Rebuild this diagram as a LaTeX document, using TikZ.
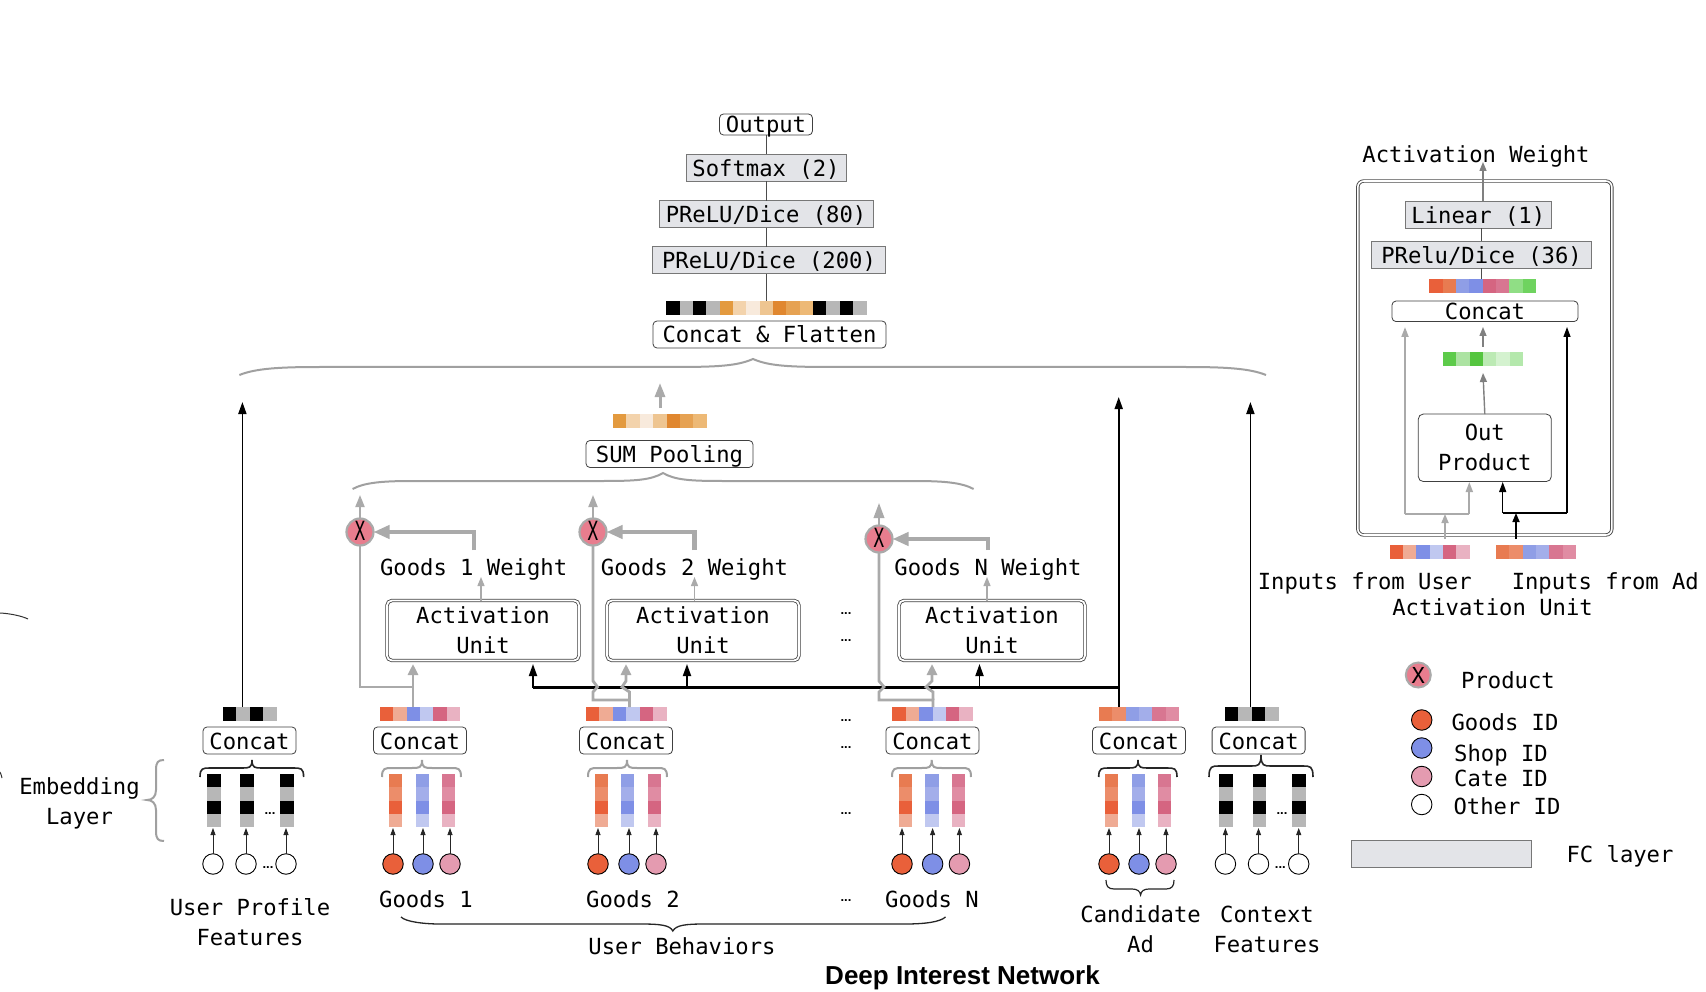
\documentclass[tikz,border=0pt]{standalone}
\usepackage{fontspec}
\setmainfont{DejaVu Sans Mono}
\newfontfamily\titlefont{Liberation Sans}
\usetikzlibrary{arrows.meta}
\definecolor{cO}{HTML}{E9603A}\definecolor{cOa}{HTML}{E87B51}\definecolor{cOb}{HTML}{EC8D6A}\definecolor{cOl}{HTML}{EFAB94}
\definecolor{cB}{HTML}{7E8FE6}\definecolor{cBa}{HTML}{8F9EE6}\definecolor{cBb}{HTML}{A3AEEA}\definecolor{cBl}{HTML}{C0C8F0}
\definecolor{cP}{HTML}{D56581}\definecolor{cPa}{HTML}{D87691}\definecolor{cPb}{HTML}{E08CA3}\definecolor{cPl}{HTML}{E9B2C2}
\definecolor{cPc}{HTML}{E49BB0}
\definecolor{cK}{HTML}{000000}\definecolor{cG}{HTML}{B7B7B7}
\definecolor{mA}{HTML}{E39A3F}\definecolor{mB}{HTML}{F3D3AC}\definecolor{mC}{HTML}{F8EADC}\definecolor{mD}{HTML}{EEC591}\definecolor{mE}{HTML}{E0872F}\definecolor{mF}{HTML}{E6A253}\definecolor{mG}{HTML}{EDB976}
\definecolor{gA}{HTML}{5DCB4A}\definecolor{gB}{HTML}{ACE3A2}\definecolor{gC}{HTML}{55C53F}\definecolor{gD}{HTML}{BCEAB4}\definecolor{gE}{HTML}{D4F2CF}\definecolor{gF}{HTML}{B4E8AC}\definecolor{gG}{HTML}{90DE85}\definecolor{gH}{HTML}{6FD35F}
\definecolor{fcfill}{HTML}{E3E4E8}\definecolor{fcline}{HTML}{777777}
\definecolor{xpink}{HTML}{E87D8E}\definecolor{lgray}{HTML}{AAAAAA}\definecolor{bgray}{HTML}{A0A0A0}
\def\rowGoods{cO,cOl,cB,cBl,cP,cPl}
\def\rowCand{cOa,cOb,cBa,cBb,cPa,cPb}
\def\rowProf{cK,cG,cK,cG}
\def\rowMid{mA,mB,mC,mD,mE,mF,mG}
\def\colO{cOa,cOb,cO,cOl}\def\colB{cBa,cBb,cB,cBl}\def\colP{cPa,cPb,cP,cPl}
% horizontal strip: name, left x, top y, cell width, height, colours
\newcommand{\hstrip}[6]{%
  \foreach \cc [count=\ii from 0] in #6 {\fill[\cc] ({#2+\ii*#4},#3) rectangle ++(#4+.15,#5);}
  \coordinate (#1) at (#2,#3);}
% vertical strip: left x, top y, width, cell height, colours
\newcommand{\vstrip}[5]{%
  \foreach \cc [count=\ii from 0] in #5 {\fill[\cc] (#1,{#2+\ii*#4}) rectangle ++(#3,#4+.15);}}
% brace opening downward: style, x1, x2, tip x, tip y, line y, end y, radius
\newcommand{\topbrace}[8]{%
  \draw[#1] (#2,#7) .. controls (#2,#6) and ({#2+.3*#8},#6) .. ({#2+#8},#6) -- ({#4-#8},#6)
    .. controls ({#4-.3*#8},#6) and (#4,#6) .. (#4,#5)
    .. controls (#4,#6) and ({#4+.3*#8},#6) .. ({#4+#8},#6) -- ({#3-#8},#6)
    .. controls ({#3-.3*#8},#6) and (#3,#6) .. (#3,#7);}
% wide shallow brace
\newcommand{\widebrace}[8]{%
  \draw[#1] (#2,#7) .. controls ({#2+.2*#8},{#6+1.5}) and ({#2+.5*#8},#6) .. ({#2+#8},#6) -- ({#4-#8},#6)
    .. controls ({#4-.45*#8},#6) and ({#4-.2*#8},{#6-1}) .. (#4,#5)
    .. controls ({#4+.2*#8},{#6-1}) and ({#4+.45*#8},#6) .. ({#4+#8},#6) -- ({#3-#8},#6)
    .. controls ({#3-.5*#8},#6) and ({#3-.2*#8},{#6+1.5}) .. (#3,#7);}
\tikzset{
  x=1pt,y=-1pt,
  txt/.style={inner sep=0,outer sep=0,text height=17pt,text depth=0pt,font=\fontsize{22.2}{30}\selectfont,text=black},
  mtxt/.style={inner sep=0,outer sep=0,align=center,font=\fontsize{22.2}{30}\selectfont,text=black},
  concatbox/.style={txt,draw=black!75,line width=.8pt,fill=white,rounded corners=4pt,minimum height=27pt},
  fcbox/.style={txt,draw=fcline,line width=1pt,fill=fcfill,minimum height=27pt},
  actbox/.style={mtxt,draw=black!75,line width=.8pt,double=white,double distance=1.8pt,rounded corners=5pt,minimum width=192pt,minimum height=60pt},
  idc/.style={circle,draw=black,line width=.9pt,minimum size=20.5pt,inner sep=0,outer sep=0},
  xnode/.style={txt,circle,draw=lgray,line width=2.2pt,fill=xpink,minimum size=27pt,font=\fontsize{22}{22}\selectfont,text=black},
  thinarr/.style={-{Triangle[length=7pt,width=5pt]},line width=.8pt,draw=black!85},
  grayarr/.style={-{Triangle[length=11pt,width=10pt]},line width=2.8pt,draw=lgray},
  wtarr/.style={-{Triangle[length=16pt,width=13pt]},line width=4.2pt,draw=lgray},
  topgray/.style={-{Triangle[length=14pt,width=10pt]},line width=3pt,draw=lgray},
  graysm/.style={-{Triangle[length=9pt,width=7pt]},line width=1.3pt,draw=lgray},
  blkarr/.style={-{Triangle[length=12pt,width=8pt]},line width=1.8pt,draw=black},
  grayln/.style={line width=2.8pt,draw=lgray,line join=miter},
  blkln/.style={line width=2.2pt,draw=black},
  stem/.style={line width=.8pt,draw=black!70},
  gbrace/.style={line width=2pt,draw=bgray},
  kbrace/.style={line width=1.6pt,draw=black!85},
  dots/.style={inner sep=0,outer sep=0,text height=2pt,text depth=0pt,font=\titlefont\bfseries\fontsize{13}{13}\selectfont,text=black},
}
\begin{document}
\begin{tikzpicture}
\useasboundingbox (0,0) rectangle (1706,992);
\fill[white] (0,0) rectangle (1706,992);

% ---- top stack
\node[concatbox,minimum width=93pt,minimum height=21pt] (output) at (766,124.5) {Output};
\node[fcbox,minimum width=160pt] (softmax) at (766,168) {Softmax (2)};
\node[fcbox,minimum width=214pt] (pr80) at (766,214.5) {PReLU/Dice (80)};
\node[fcbox,minimum width=233pt] (pr200) at (769,260.5) {PReLU/Dice (200)};
\coordinate (topline) at (766.4,301);
\draw[stem] (output.south -| topline) -- (softmax.north -| topline);
\draw[stem] (softmax.south -| topline) -- (pr80.north -| topline);
\draw[stem] (pr80.south -| topline) -- (pr200.north -| topline);
\draw[stem] (pr200.south -| topline) -- (topline);
\hstrip{flat}{666.4}{301}{13.33}{13.7}{{cK,cG,cK,cG,mA,mB,mC,mD,mE,mF,mG,cK,cG,cK,cG}}
\node[concatbox,minimum width=233pt] (flatten) at (769.5,334.5) {Concat \& Flatten};
\widebrace{gbrace}{239.4}{1266}{753}{359}{367}{375}{80}

% ---- sum pooling
\hstrip{midstrip}{613}{414}{13.4}{14}{\rowMid}
\coordinate (midtip) at (660,383);
\coordinate (midbase) at (660,408);
\draw[topgray] (midbase) -- (midtip);
\node[concatbox,minimum width=167pt] (sum) at (669.5,454) {SUM Pooling};
\widebrace{gbrace}{352.6}{973.6}{663}{473}{481}{489}{60}

% ---- product nodes and weights
\coordinate (xt1) at (360,495);\coordinate (xt2) at (593,495);\coordinate (xtn) at (879,503);
\coordinate (w1) at (473.6,550);\coordinate (w2) at (694.5,550);\coordinate (wn) at (988,550);
\node[xnode] (x1) at (360,532) {\scalebox{.8}[1.2]{X}};
\node[xnode] (x2) at (593,532) {\scalebox{.8}[1.2]{X}};
\node[xnode] (xn) at (879,539) {\scalebox{.8}[1.2]{X}};
\draw[graysm,line width=1.8pt,-{Triangle[length=12pt,width=9pt]}] (x1.north) -- (xt1);
\draw[graysm,line width=1.8pt,-{Triangle[length=12pt,width=9pt]}] (x2.north) -- (xt2);
\draw[graysm,line width=2pt,-{Triangle[length=15pt,width=10.5pt]}] (xn.north) -- (xtn);
\draw[wtarr] (w1) |- (x1.east);
\draw[wtarr] (w2) |- (x2.east);
\draw[wtarr] (wn) |- (xn.east);
\node[txt] (gw1) at (473.6,567) {Goods 1 Weight};
\node[txt] (gw2) at (694.5,567) {Goods 2 Weight};
\node[txt] (gwn) at (988,567) {Goods N Weight};

% ---- activation units
\node[actbox] (a1) at (483,630.5) {Activation\\Unit};
\node[actbox] (a2) at (703,630.5) {Activation\\Unit};
\node[actbox,minimum width=186pt] (an) at (992,630.5) {Activation\\Unit};
\coordinate (ua1) at (481,577);\coordinate (ua2) at (694.5,577);\coordinate (uan) at (987,577);
\draw[graysm] (a1.north -| ua1) -- (ua1);
\draw[graysm] (a2.north -| ua2) -- (ua2);
\draw[graysm] (an.north -| uan) -- (uan);

% ---- black bus from candidate ad
\coordinate (busE) at (1118.7,687.5);
\coordinate (adtip) at (1118.7,397);
\coordinate (b1) at (533,664);\coordinate (b2) at (687,664);\coordinate (bn) at (979.5,664);
\draw[blkln] (b1 |- busE) -- (busE);
\draw[blkarr] (b1 |- busE) -- (b1);
\draw[blkarr] (b2 |- busE) -- (b2);
\draw[blkarr] (bn |- busE) -- (bn);
\draw[blkarr] (adtip |- 0,707) -- (adtip);

% ---- group strips
\hstrip{s0}{223}{707}{13.4}{14}{\rowProf}
\hstrip{s1}{380}{707}{13.33}{14}{\rowGoods}
\hstrip{s2}{586}{707}{13.4}{14}{\rowGoods}
\hstrip{sn}{892.4}{707}{13.4}{14}{\rowGoods}
\hstrip{sc}{1098.7}{707}{13.4}{14}{\rowCand}
\hstrip{sx}{1225}{707}{13.4}{14}{\rowProf}
\coordinate (p0) at (242.4,402);\coordinate (px) at (1250.4,402);
\draw[blkarr] (p0 |- s0) -- (p0);
\draw[blkarr] (px |- sx) -- (px);

% gray feedback paths
\coordinate (g1) at (413,707);\coordinate (g1t) at (413,664);
\draw[grayln] (x1.south) -- (360,687) -- (g1 |- 0,687);
\draw[grayarr] (g1) -- (g1t);
\coordinate (g2s) at (629.5,707);\coordinate (g2t) at (626,664);
\draw[grayln] (x2.south) -- (593,681) -- (597.5,687) -- (593,692) -- (593,700) -- (629.5,700) -- (g2s);
\draw[grayarr] (629.5,700) -- (629.5,692) -- (622,687) -- (626,681) -- (g2t);
\coordinate (gns) at (933,707);\coordinate (gnt) at (932,664);
\draw[grayln] (xn.south) -- (879,681) -- (884,687) -- (879,692) -- (879,700) -- (933,700) -- (gns);
\draw[grayarr] (933,700) -- (933,692) -- (926,687) -- (932,681) -- (gnt);

% ---- concat boxes
\node[concatbox,minimum width=93pt] (c0) at (249.5,740.5) {Concat};
\node[concatbox,minimum width=93pt] (c1) at (420,740.5) {Concat};
\node[concatbox,minimum width=93pt] (c2) at (626,740.5) {Concat};
\node[concatbox,minimum width=93pt] (cn) at (932.4,740.5) {Concat};
\node[concatbox,minimum width=93pt] (cc) at (1139,740.5) {Concat};
\node[concatbox,minimum width=93pt] (cx) at (1258.6,740.5) {Concat};

\topbrace{kbrace}{200}{303.6}{252}{760}{768}{777}{10}
\topbrace{gbrace}{382}{461}{422}{760}{768}{777}{10}
\topbrace{gbrace}{588}{667}{627}{760}{768}{777}{10}
\topbrace{gbrace}{892}{971}{931.7}{760}{768}{777}{10}
\topbrace{kbrace}{1098.7}{1177}{1138}{760}{768}{777}{10}
\topbrace{kbrace}{1209}{1313}{1261}{755}{766}{777}{10}

% ---- embedding columns
\foreach \xx in {207,240,280,1219,1252.7,1292.4} {\vstrip{\xx}{774}{13.6}{13.3}{\rowProf}}
\vstrip{389}{774}{13.4}{13.3}{\colO}\vstrip{416}{774}{13.4}{13.3}{\colB}\vstrip{442}{774}{13.4}{13.3}{\colP}
\vstrip{595}{774}{13.4}{13.3}{\colO}\vstrip{621}{774}{13.4}{13.3}{\colB}\vstrip{648}{774}{13.4}{13.3}{\colP}
\vstrip{898.7}{774}{13.4}{13.3}{\colO}\vstrip{925.4}{774}{13.4}{13.3}{\colB}\vstrip{951.8}{774}{13.4}{13.3}{\colP}
\vstrip{1105}{774}{13.4}{13.3}{\colO}\vstrip{1131.7}{774}{13.4}{13.3}{\colB}\vstrip{1158}{774}{13.4}{13.3}{\colP}

% ---- ID circles + arrows
\foreach \nm/\xx/\cc in {a0/213/white,a1c/246/white,a2c/286/white,b1c/393/cO,b2c/423/cB,b3c/450/cPc,c1c/598/cO,c2c/629/cB,c3c/656/cPc,d1c/902/cO,d2c/932.6/cB,d3c/959.4/cPc,e1c/1109/cO,e2c/1139/cB,e3c/1166/cPc,f1c/1225.4/white,f2c/1258.5/white,f3c/1298.7/white} {
  \node[idc,fill=\cc] (\nm) at (\xx,864) {};
  \coordinate (\nm t) at (\xx,828);
  \draw[thinarr] (\nm.north) -- (\nm t);
}

% ---- dots
\node[dots] (d1) at (270,813) {...};
\node[dots] (d2) at (268,867) {...};
\node[dots] (d3) at (1282,813) {...};
\node[dots] (d4) at (1280.4,867) {...};
\foreach \yy/\nm in {613/e1,640/e2,720/e3,747/e4,813/e5,900/e6} {\node[dots] (\nm) at (846,\yy) {...};}

% ---- labels
\node[mtxt] (upf) at (250,922) {User Profile\\Features};
\node[txt] (go1) at (426,899) {Goods 1};
\node[txt] (go2) at (633,899) {Goods 2};
\node[txt] (gon) at (932,899) {Goods N};
\node[mtxt] (cand) at (1140.6,929.5) {Candidate\\Ad};
\node[mtxt] (ctx) at (1267,929.5) {Context\\Features};
\node[txt] (ub) at (682,946) {User Behaviors};
\node[mtxt] (emb) at (79.5,803) {Embedding\\Layer};
\node[inner sep=0,outer sep=0,font=\titlefont\bfseries\fontsize{26}{26}\selectfont] (title) at (962.5,978) {Deep Interest Network};

% left-facing embedding brace
\draw[gbrace] (164,760) .. controls (158,760) and (156,762) .. (156,770) -- (156,790) .. controls (156,797) and (152,800) .. (147,800) .. controls (152,800) and (156,803) .. (156,810) -- (156,831) .. controls (156,839) and (158,841) .. (164,841);
% underbrace: user behaviors
\draw[line width=1.3pt,draw=black!85] (401,917) .. controls (406,922) and (425,924) .. (440,924) -- (640,924) .. controls (660,924) and (670,925) .. (672.8,931) .. controls (676,925) and (686,924) .. (705,924) -- (905,924) .. controls (925,924) and (940,922) .. (945.5,917);
% underbrace: candidate ad
\draw[line width=1.2pt,draw=black!85] (1106,880) .. controls (1106,886) and (1108,889) .. (1114,889) -- (1132,889) .. controls (1137,889) and (1140,891) .. (1140.6,895) .. controls (1141,891) and (1144,889) .. (1149,889) -- (1166,889) .. controls (1172,889) and (1174,886) .. (1174,880);
% cropped arcs at the left edge
\draw[line width=1pt,draw=black!80] (0,613) .. controls (10,613.5) and (22,616) .. (28,619);
\draw[line width=1pt,draw=black!80] (0,772) .. controls (1,774) and (1.6,776) .. (2,778);

% ---- right panel
\node[txt] (awt) at (1476,154) {Activation Weight};
\node[draw=black!70,line width=.9pt,double=white,double distance=1.6pt,rounded corners=6pt,minimum width=254pt,minimum height=354pt,inner sep=0,outer sep=0] (au) at (1484.8,358) {};
\node[fcbox,minimum width=146pt] (lin) at (1478.3,214.6) {Linear (1)};
\node[fcbox,minimum width=220pt] (prd) at (1481.5,254.6) {PRelu/Dice (36)};
\hstrip{rstrip}{1429.3}{279}{13.33}{13.7}{{cO,cOa,cBa,cB,cP,cPa,gG,gH}}
\coordinate (aw0) at (1483,200);\coordinate (awtip) at (1483,162);
\coordinate (rl) at (1481.7,279);
\draw[-{Triangle[length=9pt,width=7pt]},line width=1.4pt,draw=black!50] (lin.north -| aw0) -- (awtip);
\draw[stem] (lin.south -| rl) -- (prd.north -| rl);
\draw[stem] (prd.south -| rl) -- (rl);
\node[concatbox,minimum width=186pt,minimum height=20.5pt] (rcc) at (1485,311.3) {Concat};
\hstrip{gstrip}{1443}{352}{13.33}{14}{{gA,gB,gC,gD,gE,gF}}
\coordinate (ra) at (1483,347);\coordinate (rat) at (1483,327);
\draw[-{Triangle[length=9pt,width=7pt]},line width=1.4pt,draw=black!50] (ra) -- (rat);
\node[mtxt,draw=black!75,line width=.8pt,rounded corners=5pt,minimum width=133pt,minimum height=67.5pt] (op) at (1484.8,447.8) {Out\\Product};
\coordinate (ob) at (1483,373);
\draw[-{Triangle[length=9pt,width=7pt]},line width=1.4pt,draw=black!50] (op.north) -- (ob);
\coordinate (gl) at (1405,327);\coordinate (gr) at (1469.3,482);\coordinate (gy) at (1445,514);
\coordinate (bl) at (1502.7,482);\coordinate (br) at (1567,327);\coordinate (by) at (1516,513);
\draw[-{Triangle[length=10pt,width=7pt]},line width=1.9pt,draw=lgray] (gy -| gr) -- (gr);
\draw[-{Triangle[length=10pt,width=7pt]},line width=1.9pt,draw=lgray] (gy -| gl) -- (gl);
\draw[line width=1.9pt,draw=lgray] (gy -| gl) -- (gy -| gr);
\draw[-{Triangle[length=10pt,width=7pt]},line width=1.3pt,draw=black] (by -| bl) -- (bl);
\draw[-{Triangle[length=10pt,width=7pt]},line width=1.3pt,draw=black] (by -| br) -- (br);
\draw[line width=1.3pt,draw=black] (by -| bl) -- (by -| br);
\coordinate (gb) at (1445,539);\coordinate (bb) at (1516,539);
\draw[-{Triangle[length=9pt,width=7pt]},line width=1.6pt,draw=lgray] (gb) -- (gy);
\draw[-{Triangle[length=9pt,width=7pt]},line width=1.6pt,draw=black] (bb) -- (by);
\hstrip{inU}{1389.7}{545}{13.33}{14}{\rowGoods}
\hstrip{inA}{1496}{545}{13.33}{14}{\rowCand}
\node[txt] (ifu) at (1364.7,580.7) {Inputs from User};
\node[txt] (ifa) at (1605.3,580.7) {Inputs from Ad};
\node[txt] (autxt) at (1492.5,606.7) {Activation Unit};

% ---- legend
\node[xnode,minimum size=25pt,line width=2pt] (lx) at (1418.3,675) {X};
\node[txt] (lxt) at (1508,680) {Product};
\node[idc,fill=cO] (l1) at (1421.7,720) {};
\node[txt] (l1t) at (1505,721.7) {Goods ID};
\node[idc,fill=cB] (l2) at (1421.7,748) {};
\node[txt] (l2t) at (1501,752.7) {Shop ID};
\node[idc,fill=cPc] (l3) at (1421.7,776.5) {};
\node[txt] (l3t) at (1501,778) {Cate ID};
\node[idc,fill=white] (l4) at (1421.7,804.5) {};
\node[txt] (l4t) at (1507,806) {Other ID};
\node[fcbox,minimum width=180pt] (lfc) at (1441.7,854) {};
\node[txt] (lfct) at (1620,854) {FC layer};
\end{tikzpicture}
\end{document}
